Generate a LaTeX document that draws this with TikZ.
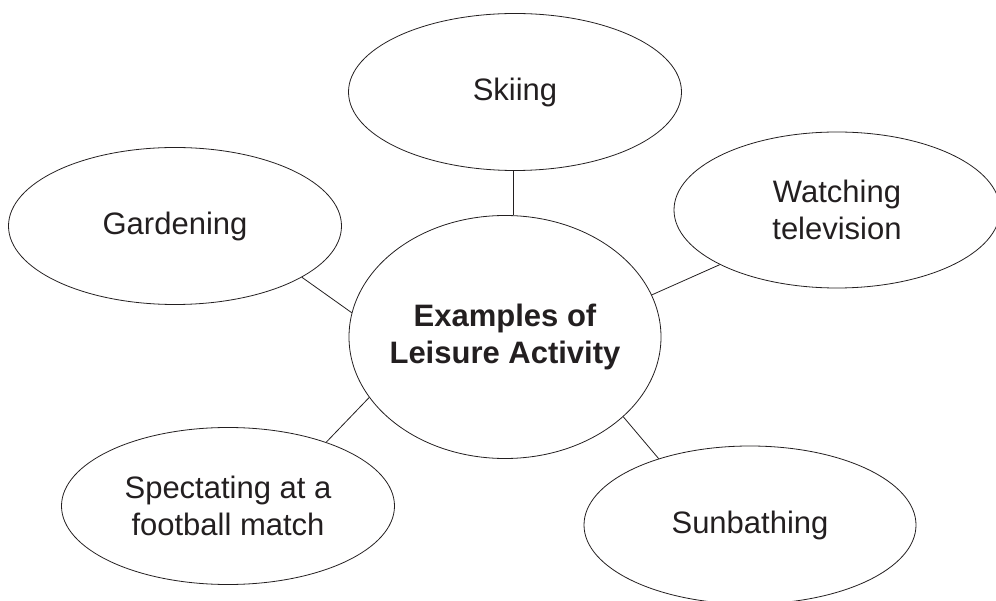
\documentclass[tikz,border=0pt]{standalone}
\usepackage{fontspec}
\setmainfont{Liberation Sans}
\usetikzlibrary{shapes.geometric}
\definecolor{ink}{HTML}{231F20}

\begin{document}
\begin{tikzpicture}[x=1pt, y=-1pt, line width=0.8pt, draw=ink,
    bubble/.style={ellipse, draw, text=ink, inner sep=0pt, align=center,
        minimum width=333pt, minimum height=157pt,
        font=\fontsize{31}{36.5}\selectfont}]
    \useasboundingbox (0,0) rectangle (996,601);

    % centre
    \node[bubble, minimum width=312pt, minimum height=243pt, inner xsep=-40pt,
        font=\fontsize{31}{37}\selectfont\bfseries] at (505,337) (hub) {Examples of\\Leisure Activity};

    % activities
    \node[bubble] at (515,92) (skiing) {Skiing};
    \node[bubble] at (175,226) (garden) {Gardening};
    \node[bubble, minimum width=326pt, minimum height=156pt] at (837,210) (telly) {Watching\\television};
    \node[bubble] at (228,506) (football) {Spectating at a\\football match};
    \node[bubble, minimum width=332pt, minimum height=158pt] at (750,525) (sun) {Sunbathing};

    \draw (hub.86) -- (hub.86 |- skiing.south);
    \draw (hub.171.6) -- (garden.-22.2);
    \draw (hub.16.2) -- (telly.-155.4);
    \draw (hub.-156) -- (football.33.3);
    \draw (hub.-34.4) -- (sun.144.4);
\end{tikzpicture}
\end{document}
